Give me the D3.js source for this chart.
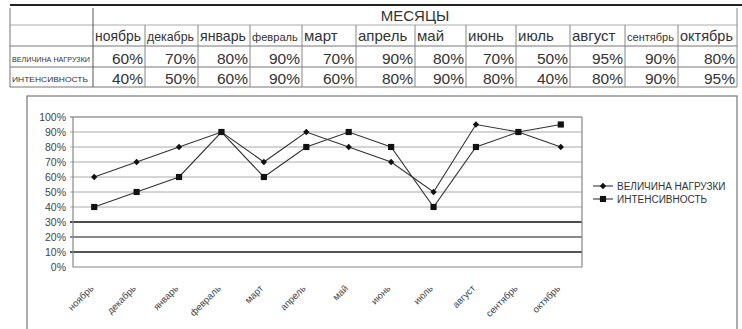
<!DOCTYPE html>
<html>
<head>
<meta charset="utf-8">
<script src="https://cdn.jsdelivr.net/npm/d3@7"></script>
<style>
  body { margin: 0; background: #fff; }
  svg { display: block; }
  text { font-family: "Liberation Sans", Arial, sans-serif; }
</style>
</head>
<body>
<svg id="chart" width="742" height="329"></svg>
<script>
// ---- data ----
const months = ["ноябрь", "декабрь", "январь", "февраль", "март", "апрель", "май", "июнь", "июль", "август", "сентябрь", "октябрь"];
const loadValues = [60, 70, 80, 90, 70, 90, 80, 70, 50, 95, 90, 80];
const intensityValues = [40, 50, 60, 90, 60, 80, 90, 80, 40, 80, 90, 95];
const seriesNames = ["ВЕЛИЧИНА НАГРУЗКИ", "ИНТЕНСИВНОСТЬ"];
const tableTitle = "МЕСЯЦЫ";
const yTicks = [0, 10, 20, 30, 40, 50, 60, 70, 80, 90, 100];

// ---- layout ----
const colWidths = [52, 53, 52, 52, 54, 59, 51, 50, 54, 55, 53, 59];
const table = { left: 10, labelRight: 93, rows: [5, 25, 46, 67, 87] };
const plot = { left: 73, right: 582, top: 117, bottom: 267 };

const svg = d3.select("#chart");
const fmt = d => d + "%";

// ---------- table ----------
const edges = [table.labelRight];
colWidths.forEach(w => edges.push(edges[edges.length - 1] + w));
const tableRight = edges[edges.length - 1];
const tg = svg.append("g");

// horizontal rules
tg.append("line").attr("x1", table.left).attr("x2", 742)
  .attr("y1", table.rows[0]).attr("y2", table.rows[0])
  .attr("stroke", "#222").attr("stroke-width", 2);
table.rows.slice(1).forEach((y, i) => {
  tg.append("line").attr("x1", table.left).attr("x2", tableRight)
    .attr("y1", y).attr("y2", y)
    .attr("stroke", i === 0 ? "#aaa" : "#777").attr("stroke-width", 1);
});
// vertical rules
tg.append("line").attr("x1", table.left).attr("x2", table.left)
  .attr("y1", table.rows[0] + 3).attr("y2", table.rows[4]).attr("stroke", "#777");
tg.append("line").attr("x1", table.labelRight).attr("x2", table.labelRight)
  .attr("y1", table.rows[0] + 3).attr("y2", table.rows[4]).attr("stroke", "#555");
edges.slice(1).forEach((x, i) => {
  const last = i === edges.length - 2;
  tg.append("line").attr("x1", x).attr("x2", x)
    .attr("y1", last ? table.rows[0] + 3 : table.rows[1]).attr("y2", table.rows[4])
    .attr("stroke", "#888");
});

// title
tg.append("text").attr("x", (table.labelRight + tableRight) / 2).attr("y", 21)
  .attr("text-anchor", "middle").attr("font-size", 15).attr("fill", "#333")
  .text(tableTitle);

// month names, shrunk to fit their cells
months.forEach((m, i) => {
  const base = 15;
  const t = tg.append("text").attr("x", edges[i] + 2).attr("y", 41)
    .attr("font-size", base).attr("fill", "#333").text(m);
  const w = t.node().getComputedTextLength();
  const avail = colWidths[i] - 6;
  if (w > avail) t.attr("font-size", base * avail / w);
});

// row labels
tg.append("text").attr("x", table.left + 2).attr("y", 62).attr("font-size", 7)
  .attr("fill", "#333").attr("textLength", 78).attr("lengthAdjust", "spacingAndGlyphs")
  .text(seriesNames[0]);
tg.append("text").attr("x", table.left + 2).attr("y", 82).attr("font-size", 8)
  .attr("fill", "#333").attr("textLength", 76).attr("lengthAdjust", "spacingAndGlyphs")
  .text(seriesNames[1]);

// values
[loadValues, intensityValues].forEach((vals, r) => {
  vals.forEach((v, i) => {
    tg.append("text").attr("x", edges[i + 1] - 2).attr("y", r === 0 ? 64 : 84)
      .attr("text-anchor", "end").attr("font-size", 15.5).attr("fill", "#333")
      .text(fmt(v));
  });
});

// ---------- chart ----------
svg.append("rect").attr("x", 27).attr("y", 96).attr("width", 710).attr("height", 260)
  .attr("fill", "none").attr("stroke", "#777").attr("stroke-width", 1.2);

const x = d3.scaleBand().domain(months).range([plot.left, plot.right]);
const y = d3.scaleLinear().domain([0, 100]).range([plot.bottom, plot.top]);

// gridlines
const gridStyle = v =>
  v === 30 ? { c: "#111", w: 1.6 } :
  v === 20 ? { c: "#8a8a8a", w: 2 } :
  v === 10 ? { c: "#555", w: 2 } :
  v === 100 ? { c: "#666", w: 1.2 } : { c: "#aaa", w: 1 };
svg.append("g").selectAll("line").data(yTicks.filter(v => v > 0)).join("line")
  .attr("x1", plot.left - 3).attr("x2", plot.right)
  .attr("y1", d => y(d)).attr("y2", d => y(d))
  .attr("stroke", d => gridStyle(d).c).attr("stroke-width", d => gridStyle(d).w);

// plot frame
svg.append("path")
  .attr("d", `M${plot.left},${plot.top}V${plot.bottom}H${plot.right}V${plot.top}`)
  .attr("fill", "none").attr("stroke", "#888").attr("stroke-width", 1.2);

// y axis
const yAxis = svg.append("g").attr("transform", `translate(${plot.left},0)`)
  .call(d3.axisLeft(y).tickValues(yTicks).tickFormat(fmt).tickSize(0).tickPadding(7));
yAxis.select(".domain").remove();
yAxis.selectAll("text").attr("font-size", 10.5).attr("fill", "#444")
  .attr("font-family", "'Liberation Sans', Arial, sans-serif");

// x axis
const xAxis = svg.append("g").attr("transform", `translate(0,${plot.bottom})`)
  .call(d3.axisBottom(x).tickSize(0));
xAxis.select(".domain").remove();
xAxis.selectAll("text")
  .attr("font-size", 9.5).attr("fill", "#444")
  .attr("font-family", "'Liberation Sans', Arial, sans-serif")
  .attr("text-anchor", "end").attr("dy", null).attr("y", 0)
  .attr("transform", "translate(0,22) rotate(-45)");

// series
const cx = m => x(m) + x.bandwidth() / 2;
const series = [
  { name: seriesNames[0], values: loadValues, symbol: d3.symbolSquare, size: 20, rotate: 45 },
  { name: seriesNames[1], values: intensityValues, symbol: d3.symbolSquare, size: 38, rotate: 0 }
];
const line = d3.line().x((d, i) => cx(months[i])).y(d => y(d));
series.forEach(s => {
  svg.append("path").datum(s.values).attr("d", line)
    .attr("fill", "none").attr("stroke", "#333").attr("stroke-width", 1.1);
  svg.append("g").selectAll("path").data(s.values).join("path")
    .attr("d", d3.symbol(s.symbol, s.size))
    .attr("transform", (d, i) => `translate(${cx(months[i])},${y(d)}) rotate(${s.rotate})`)
    .attr("fill", "#111");
});

// legend
const lg = svg.append("g").attr("transform", "translate(593,186)");
series.forEach((s, i) => {
  const g = lg.append("g").attr("transform", `translate(0,${i * 13})`);
  g.append("line").attr("x1", 0).attr("x2", 20).attr("stroke", "#333").attr("stroke-width", 1.1);
  g.append("path").attr("d", d3.symbol(s.symbol, s.size))
    .attr("transform", `translate(10,0) rotate(${s.rotate})`).attr("fill", "#111");
  g.append("text").attr("x", 24).attr("y", 3.6).attr("font-size", 10).attr("fill", "#333").text(s.name);
});
</script>
</body>
</html>
